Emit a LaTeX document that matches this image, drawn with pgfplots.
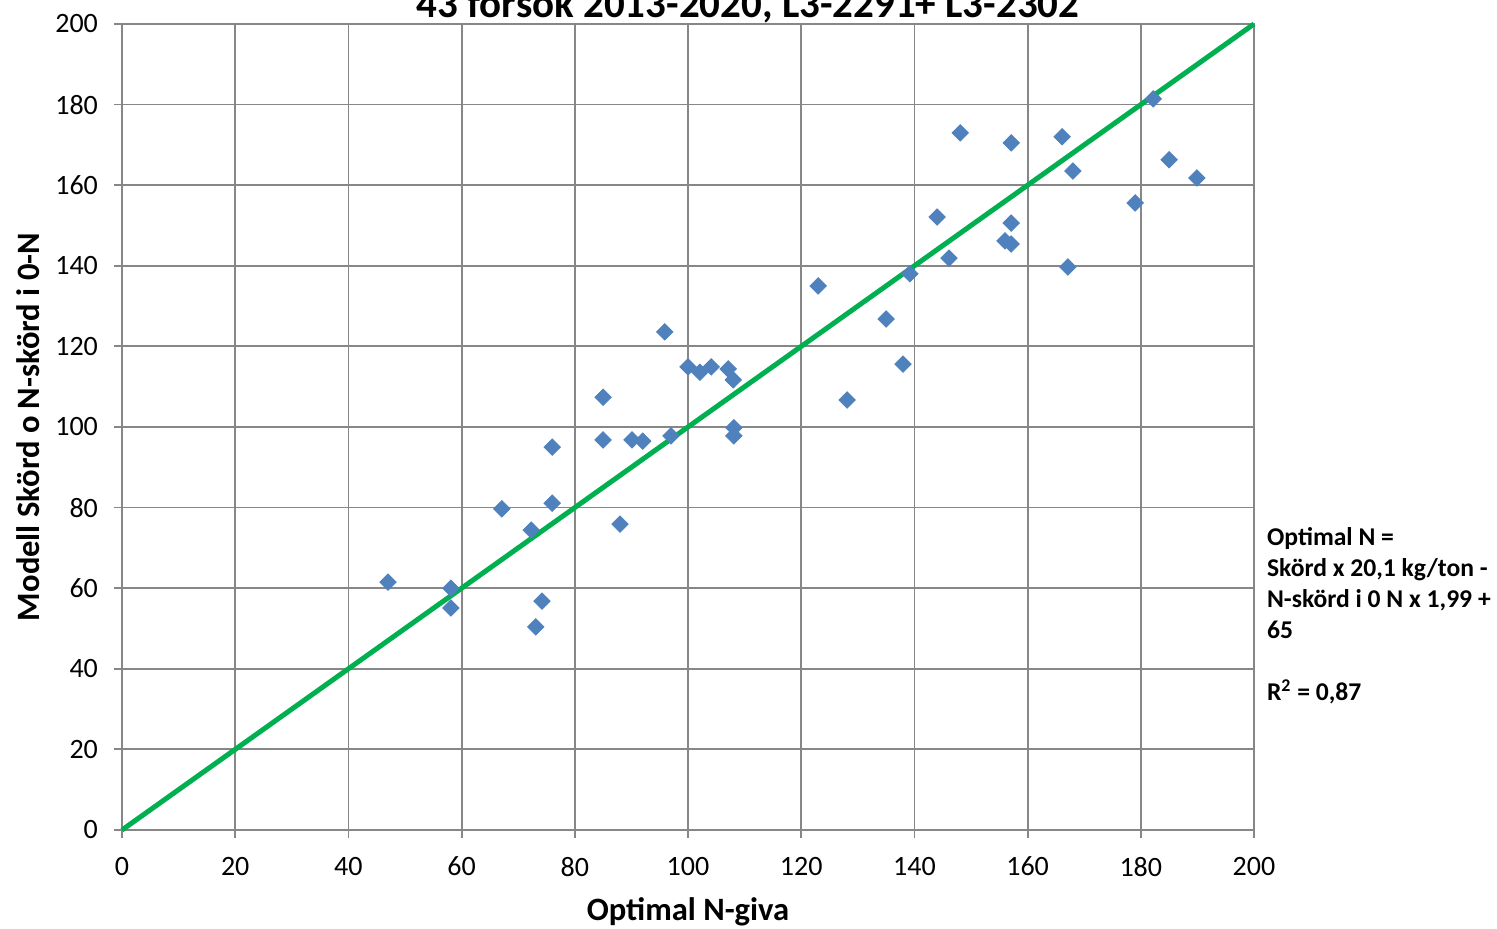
\documentclass[border=0pt]{standalone}
\usepackage{pgfplots}
\pgfplotsset{compat=1.18}
\usepackage{fontspec}
\setmainfont{Carlito}

\definecolor{excelblue}{HTML}{4F81BD}
\definecolor{excelgreen}{HTML}{00B050}
\definecolor{gridgray}{HTML}{878787}

\begin{document}
\begin{tikzpicture}
\begin{axis}[
  at={(0,0)}, anchor=south west,
  scale only axis, width=566pt, height=403pt,
  xmin=0, xmax=200, ymin=0, ymax=200,
  xtick={0,20,...,200}, ytick={0,20,...,200},
  grid=major,
  major grid style={gridgray, line width=0.9pt},
  axis line style={gridgray, line width=0.9pt},
  tick style={gridgray, line width=0.9pt},
  tick align=outside, major tick length=4pt,
  xtick pos=bottom, ytick pos=left,
  /pgf/number format/assume math mode=true,
  ticklabel style={font=\fontsize{14}{16}\selectfont},
  xticklabel style={yshift=-6pt},
  yticklabel style={xshift=-4.5pt},
  clip=false,
]
\addplot[only marks, mark=square*, mark size=2.9pt,
  mark options={rotate=45, draw=excelblue, fill=excelblue}] coordinates {
  (47.0,61.5) (58.1,60.0) (58.1,55.1) (67.1,79.7) (72.3,74.4)
  (73.1,50.4) (74.2,56.8) (76.0,95.0) (76.0,81.1) (85.0,107.4)
  (85.0,96.8) (88.0,75.9) (90.1,96.8) (92.0,96.5) (95.9,123.6)
  (97.0,97.8) (100.0,114.9) (102.1,113.6) (104.1,114.9) (107.1,114.4)
  (108.0,111.7) (108.1,99.8) (108.1,97.8) (123.0,135.0) (128.1,106.7)
  (135.0,126.8) (138.0,115.6) (139.2,138.0) (144.0,152.1) (146.1,141.9)
  (148.1,173.0) (156.0,146.2) (157.1,150.6) (157.1,145.4) (157.1,170.5)
  (166.1,172.0) (167.1,139.7) (168.0,163.5) (179.0,155.6) (182.2,181.4)
  (185.0,166.3) (189.9,161.8)
};
\addplot[excelgreen, line width=2.5pt] coordinates {(0,0) (200,200)};
\end{axis}
% axis titles
\node[anchor=center, font=\fontsize{16.3}{19}\selectfont\bfseries] at (283pt,-41pt)
  {Optimal N-giva};
\node[anchor=center, rotate=90, font=\fontsize{16.3}{19}\selectfont\bfseries] at (-47pt,201.5pt)
  {Modell Skörd o N-skörd i 0-N};
% chart title, partly cut at the top edge as in the original
\node[anchor=base, font=\fontsize{20.5}{24}\selectfont\bfseries] at (313pt,406pt)
  {43 försök 2013-2020, L3-2291+ L3-2302};
\node[anchor=north west, align=left, font=\fontsize{12.8}{15.5}\selectfont\bfseries]
  at (569pt,155pt)
  {Optimal N =\\Skörd x 20,1 kg/ton -\\N-skörd i 0 N x 1,99 +\\65\\[15.5pt]R\textsuperscript{2} = 0,87};
\pgfresetboundingbox
\path (-61pt,-49.5pt) rectangle (687.5pt,415pt);
\end{tikzpicture}
\end{document}
